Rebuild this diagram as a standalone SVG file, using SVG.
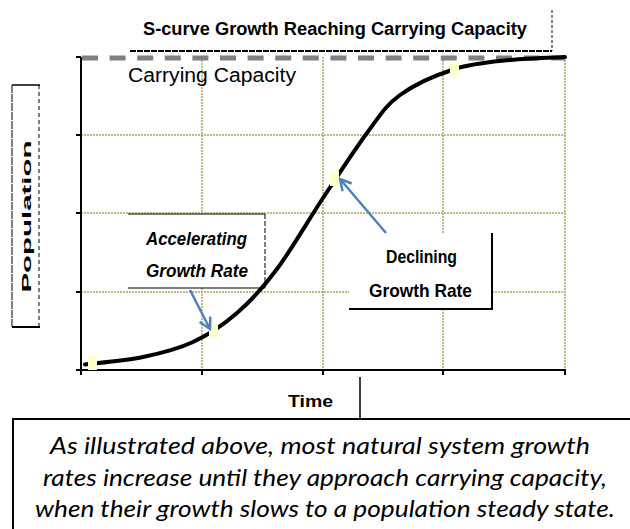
<svg xmlns="http://www.w3.org/2000/svg" width="630" height="529" viewBox="0 0 630 529">
  <style>
    .grid { stroke: #a8a860; stroke-width: 1.5; stroke-dasharray: 2 1; fill: none; }
    .axis { stroke: #000; stroke-width: 2; fill: none; }
    .bold { font-family: "Liberation Sans", Arial, sans-serif; font-weight: bold; fill: #000; }
    .pt { fill: #ffffc8; }
    .arrow { stroke: #4f81bd; stroke-width: 2.5; fill: none; }
    .cap { font-family: Lato, "Liberation Sans", sans-serif; font-style: italic; font-size: 23px; fill: #000; }
  </style>
  <defs>
    <marker id="vhead" viewBox="0 0 14 14" refX="12" refY="7" markerWidth="14" markerHeight="14" markerUnits="userSpaceOnUse" orient="auto">
      <path d="M1,1 L12,7 L1,13" stroke="#4f81bd" stroke-width="2.5" fill="none"/>
    </marker>
  </defs>
  <rect width="630" height="529" fill="#fff"/>

  <!-- grid and axes -->
  <g id="chart">
    <line class="grid" x1="202" y1="57" x2="202" y2="370"/>
    <line class="grid" x1="323" y1="57" x2="323" y2="370"/>
    <line class="grid" x1="443" y1="57" x2="443" y2="370"/>
    <line class="grid" x1="565" y1="57" x2="565" y2="370"/>
    <line class="grid" x1="81" y1="135" x2="565" y2="135"/>
    <line class="grid" x1="81" y1="213" x2="565" y2="213"/>
    <line class="grid" x1="81" y1="292" x2="565" y2="292"/>
    <path class="axis" d="M81,57 V375 M80,370 H566 M76,57 H81 M76,135 H81 M76,213 H81 M76,292 H81 M76,370 H81 M202,370 V375 M323,370 V375 M443,370 V375 M565,370 V375"/>
  </g>

  <!-- title -->
  <g id="title">
    <line x1="130" y1="51" x2="552" y2="51" stroke="#000" stroke-width="2" stroke-dasharray="6 1"/>
    <line x1="552" y1="10" x2="552" y2="51" stroke="#000" stroke-width="1" stroke-dasharray="3 2"/>
    <text class="bold" x="335" y="35" font-size="18" text-anchor="middle" textLength="384" lengthAdjust="spacingAndGlyphs">S-curve Growth Reaching Carrying Capacity</text>
  </g>

  <!-- carrying capacity line -->
  <g id="carrying-capacity">
    <line x1="82" y1="58" x2="565" y2="58" stroke="#808080" stroke-width="5" stroke-dasharray="16 11.6"/>
    <text x="128" y="82" font-family="Liberation Sans, Arial, sans-serif" font-size="20" textLength="168" lengthAdjust="spacingAndGlyphs" fill="#000">Carrying Capacity</text>
  </g>

  <!-- y-axis label -->
  <g id="y-label">
    <path d="M12,85 H40" stroke="#000" stroke-width="1.5" fill="none"/>
    <path d="M12,85 V328" stroke="#000" stroke-width="1" stroke-dasharray="8 1" fill="none"/>
    <path d="M39,85 V328" stroke="#000" stroke-width="1" stroke-dasharray="4 3" fill="none"/>
    <path d="M12,327 H40" stroke="#000" stroke-width="2" fill="none"/>
    <text class="bold" transform="translate(31,216.5) rotate(-90)" x="0" y="0" font-size="13" text-anchor="middle" textLength="152" lengthAdjust="spacingAndGlyphs">Population</text>
  </g>

  <!-- label boxes -->
  <g id="accelerating">
    <rect x="128" y="214" width="137" height="74" fill="#fff"/>
    <path d="M128,214 H265 M128,288 H265" stroke="#000" stroke-width="1.2" fill="none"/>
    <path d="M265,214 V288" stroke="#000" stroke-width="1" stroke-dasharray="5 2" fill="none"/>
    <text class="bold" x="196.5" y="245" font-size="19" font-style="italic" text-anchor="middle" textLength="101" lengthAdjust="spacingAndGlyphs">Accelerating</text>
    <text class="bold" x="197" y="277" font-size="18" font-style="italic" text-anchor="middle" textLength="102" lengthAdjust="spacingAndGlyphs">Growth Rate</text>
  </g>
  <g id="declining">
    <rect x="349" y="233" width="143" height="76" fill="#fff"/>
    <path d="M349,309 H492 V233" stroke="#000" stroke-width="2" fill="none"/>
    <text class="bold" x="421.5" y="263" font-size="19" text-anchor="middle" textLength="71" lengthAdjust="spacingAndGlyphs">Declining</text>
    <text class="bold" x="420.5" y="297" font-size="19" text-anchor="middle" textLength="103" lengthAdjust="spacingAndGlyphs">Growth Rate</text>
  </g>

  <!-- S-curve -->
  <g id="curve">
    <path d="M85,364.5 C94.7,363.25 125,360.75 143,357 C161,353.25 177.3,349.3 193,342 C208.7,334.7 223,325.2 237,313 C251,300.8 262.7,288.2 277,269 C291.3,249.8 308,220.7 323,198 C338,175.3 354.2,150.2 367,133 C379.8,115.8 385.3,105.7 400,95 C414.7,84.3 436.7,74.8 455,69 C473.3,63.2 491.7,62 510,60 C528.3,58 555.8,57.5 565,57" fill="none" stroke="#000" stroke-width="4" stroke-linecap="round"/>
  </g>

  <!-- data points -->
  <g id="points">
    <rect class="pt" x="88" y="356" width="9" height="14"/>
    <rect class="pt" x="209" y="324" width="9" height="14"/>
    <rect class="pt" x="330" y="171" width="9" height="15"/>
    <rect class="pt" x="450" y="62" width="9" height="14"/>
  </g>

  <!-- connectors -->
  <g id="connectors">
    <line class="arrow" x1="190" y1="290" x2="210" y2="329" marker-end="url(#vhead)"/>
    <line class="arrow" x1="386" y1="233" x2="340" y2="179" marker-end="url(#vhead)"/>
  </g>

  <!-- x-axis label -->
  <g id="x-label">
    <text class="bold" x="310.5" y="407" font-size="17" text-anchor="middle" textLength="45" lengthAdjust="spacingAndGlyphs">Time</text>
    <line x1="360" y1="377" x2="360" y2="419" stroke="#000" stroke-width="1.5"/>
  </g>

  <!-- caption -->
  <g id="caption">
    <rect x="13" y="419" width="640" height="130" fill="#fff" stroke="#000" stroke-width="2"/>
    <text class="cap" x="320" y="454" text-anchor="middle" textLength="540" lengthAdjust="spacingAndGlyphs">As illustrated above, most natural system growth</text>
    <text class="cap" x="325" y="486" text-anchor="middle" textLength="564" lengthAdjust="spacingAndGlyphs">rates increase until they approach carrying capacity,</text>
    <text class="cap" x="325" y="517" text-anchor="middle" textLength="580" lengthAdjust="spacingAndGlyphs">when their growth slows to a population steady state.</text>
  </g>
</svg>
